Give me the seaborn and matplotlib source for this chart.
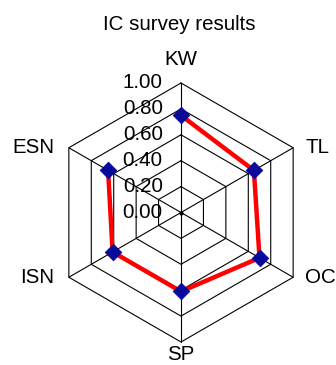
import numpy as np
import pandas as pd
import matplotlib
matplotlib.use("Agg")
import matplotlib.pyplot as plt
import seaborn as sns

# data
categories = ["KW", "TL", "OC", "SP", "ISN", "ESN"]
scores = [0.75, 0.65, 0.70, 0.61, 0.61, 0.65]
ring_levels = [0.2, 0.4, 0.6, 0.8, 1.0]
tick_labels = ["0.00", "0.20", "0.40", "0.60", "0.80", "1.00"]

sns.set_style("white")
plt.rcParams['font.family'] = ['Liberation Sans', 'DejaVu Sans']
plt.rcParams['text.color'] = 'black'

fig = plt.figure(figsize=(3.36, 3.65), dpi=100)
ax = fig.add_axes([0, 0, 1, 1])

# spokes go clockwise from the top
angles = np.pi / 2 - np.arange(len(categories)) * 2 * np.pi / len(categories)
ca, sa = np.cos(angles), np.sin(angles)

# hexagon grid
for lev in ring_levels:
    ax.plot(np.append(ca, ca[0]) * lev, np.append(sa, sa[0]) * lev,
            color="black", lw=0.8, zorder=1)
for c, s in zip(ca, sa):
    ax.plot([0, c], [0, s], color="black", lw=0.8, zorder=1)
ax.plot([0], [0], marker="o", color="black", ms=2, zorder=1)

# data polygon
vals = np.array(scores)
df = pd.DataFrame({"x": np.append(ca * vals, ca[0] * vals[0]),
                   "y": np.append(sa * vals, sa[0] * vals[0])})
sns.lineplot(data=df, x="x", y="y", sort=False, color="#ff0000", lw=3.2,
             ax=ax, zorder=3)
sns.scatterplot(x=ca * vals, y=sa * vals, marker="D", s=70, color="#0a0a9a",
                edgecolor="#0a0a9a", ax=ax, zorder=4)

# radial tick labels
for lab, lev in zip(tick_labels, [0.0] + ring_levels):
    ax.text(-0.14, lev, lab, ha="right", va="center", fontsize=14.8,
            color="black", zorder=5)

# category labels
label_pos = {
    "KW": (0, 1.18, "center", "center"),
    "TL": (0.96, 0.50, "left", "center"),
    "OC": (0.96, -0.50, "left", "center"),
    "SP": (0, -1.095, "center", "center"),
    "ISN": (-0.98, -0.50, "right", "center"),
    "ESN": (-0.98, 0.50, "right", "center"),
}
for cat in categories:
    x, y, ha, va = label_pos[cat]
    ax.text(x, y, cat, ha=ha, va=va, fontsize=14.8, color="black")

ax.text(-0.01, 1.45, "IC survey results", ha="center", va="center",
        fontsize=14.8, color="black")

ax.set_xlim(-181 / 129.5, (336 - 181) / 129.5)
ax.set_ylim(-(365 - 212.5) / 129.5, 212.5 / 129.5)
ax.axis("off")

fig.savefig("out.png", dpi=100)
